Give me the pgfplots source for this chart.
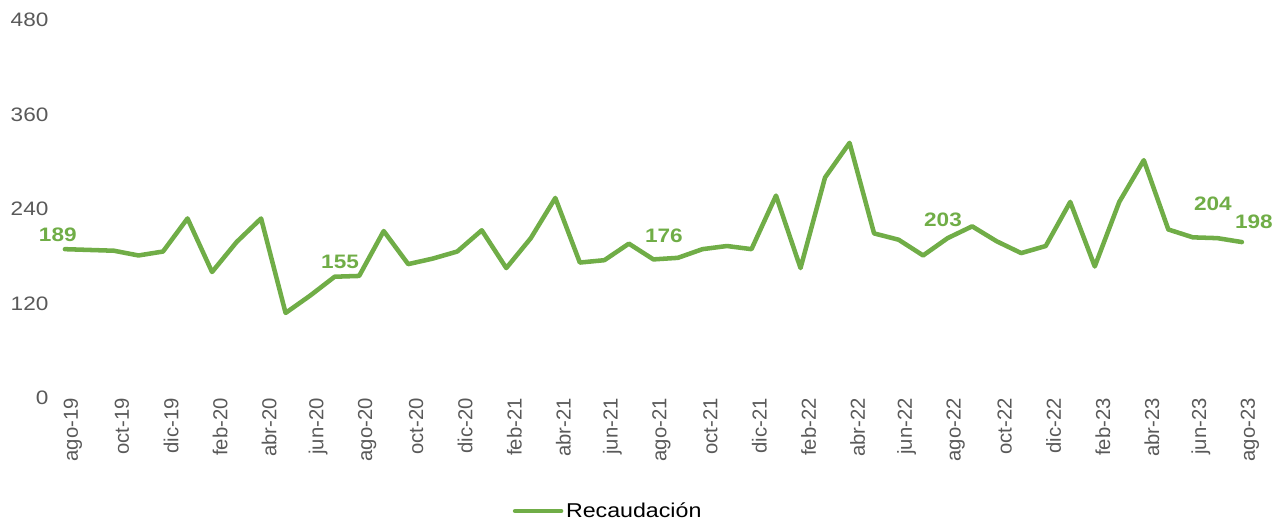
\documentclass[border=0pt]{standalone}
\usepackage{fontspec}
\setmainfont{Liberation Sans}
\newfontfamily\wide{Liberation Sans}[FakeStretch=1.16]
\usepackage{pgfplots}
\pgfplotsset{compat=1.18}
\usepackage{pgfplotstable}
\definecolor{recgreen}{HTML}{70AD47}
\definecolor{tickgray}{HTML}{595959}

\pgfplotstableread{
i val
0 189
1 188
2 187
3 181
4 186
5 228
6 160
7 198
8 228
9 108
10 130
11 154
12 155
13 212
14 170
15 177
16 186
17 213
18 165
19 203
20 254
21 172
22 175
23 196
24 176
25 178
26 189
27 193
28 189
29 257
30 165
31 280
32 324
33 209
34 201
35 181
36 203
37 218
38 199
39 184
40 193
41 249
42 167
43 249
44 302
45 214
46 204
47 203
48 198
}\recaudacion

\begin{document}
\begin{tikzpicture}
\path[use as bounding box] (0,0) rectangle (955.5pt,390.75pt);
\begin{axis}[
    at={(39.5pt,92.25pt)}, anchor=south west,
    scale only axis,
    width=901.1pt, height=283.5pt,
    xmin=-0.5, xmax=48.5,
    ymin=0, ymax=480,
    ytick={0,120,240,360,480},
    xtick={0,2,...,48},
    xticklabels={ago-19,oct-19,dic-19,feb-20,abr-20,jun-20,ago-20,oct-20,dic-20,feb-21,abr-21,jun-21,ago-21,oct-21,dic-21,feb-22,abr-22,jun-22,ago-22,oct-22,dic-22,feb-23,abr-23,jun-23,ago-23},
    axis line style={draw=none},
    major tick length=0pt,
    /pgf/number format/assume math mode=true,
    yticklabel style={font=\wide\fontsize{14.6pt}{17pt}\selectfont, text=tickgray, anchor=east, inner sep=0pt, xshift=-3pt},
    xticklabel style={font=\fontsize{15.2pt}{18pt}\selectfont, text=tickgray, rotate=90, anchor=east, inner sep=0pt, yshift=-6pt},
    clip=false,
    legend style={at={(0.4626,-0.299)}, anchor=center, draw=none, fill=none,
        font=\wide\fontsize{15pt}{18pt}\selectfont, text=black,
        /tikz/every even column/.append style={column sep=0pt}},
    legend image code/.code={\draw[#1] (0pt,0pt) -- (34.5pt,0pt);},
]
\addplot[color=recgreen, line width=3.4pt, line join=round, line cap=round] table[x=i, y=val] {\recaudacion};
\addlegendentry{Recaudación}

\begin{scope}[every node/.style={font=\wide\bfseries\fontsize{14.6pt}{17pt}\selectfont, text=recgreen}]
\node at (axis cs:-0.29,207.6) {189};
\node at (axis cs:11.22,173.3) {155};
\node at (axis cs:24.43,206.3) {176};
\node at (axis cs:35.81,226.7) {203};
\node at (axis cs:46.82,246.3) {204};
\node at (axis cs:48.49,223.5) {198};
\end{scope}
\end{axis}
\end{tikzpicture}
\end{document}
